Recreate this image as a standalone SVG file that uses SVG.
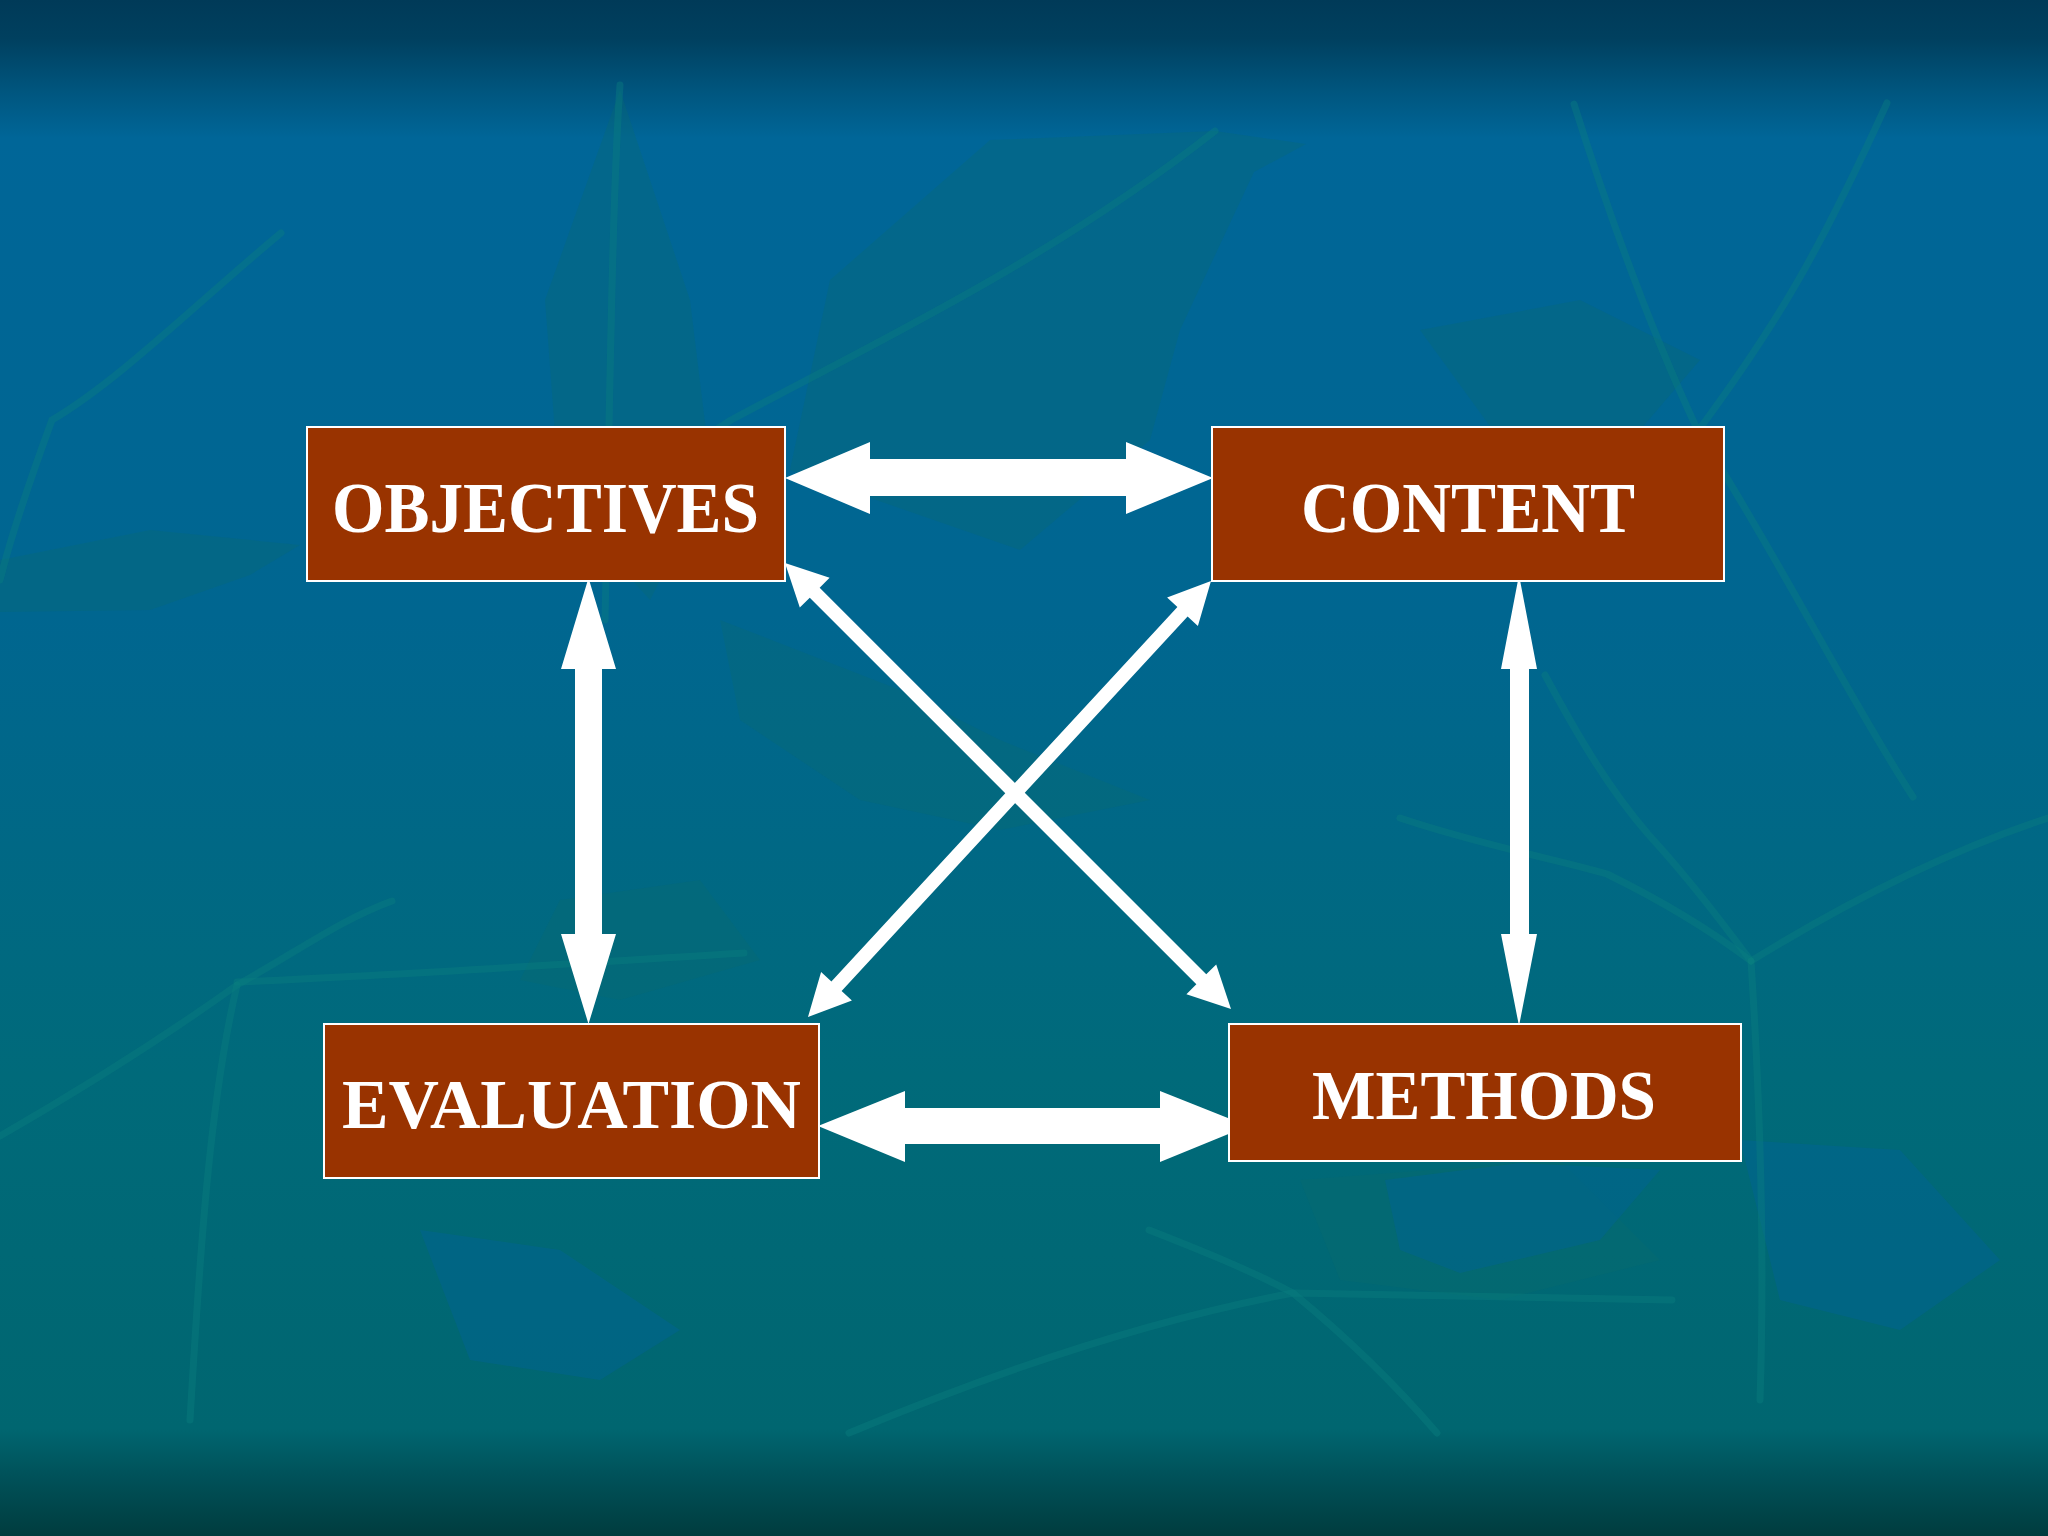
<svg xmlns="http://www.w3.org/2000/svg" width="2048" height="1536" viewBox="0 0 2048 1536">
  <defs>
    <linearGradient id="bg" x1="0" y1="0" x2="0" y2="1">
      <stop offset="0" stop-color="#003a58"/>
      <stop offset="0.025" stop-color="#00405f"/>
      <stop offset="0.06" stop-color="#00567f"/>
      <stop offset="0.09" stop-color="#006698"/>
      <stop offset="0.4" stop-color="#006690"/>
      <stop offset="0.7" stop-color="#006a7a"/>
      <stop offset="0.93" stop-color="#006670"/>
      <stop offset="0.96" stop-color="#00525a"/>
      <stop offset="1" stop-color="#003c3e"/>
    </linearGradient>
    <style>
      .leaf { fill: #0a6a6a; opacity: 0.28; }
      .blue { fill: #0062a0; opacity: 0.35; }
      .stem { fill: none; stroke: #0a8080; stroke-width: 7; stroke-linecap: round; opacity: 0.4; }
      .box { fill: #993300; stroke: #ffffff; stroke-width: 2; }
      .label { font-family: "Liberation Serif", "Times New Roman", serif; font-weight: bold; fill: #ffffff; }
      .arrow { fill: #ffffff; }
    </style>
  </defs>

  <g id="background">
    <rect x="0" y="0" width="2048" height="1536" fill="url(#bg)"/>
    <path class="leaf" d="M1215,131 L1306,144 L1254,172 L1180,330 L1150,440 L1020,550 L790,470 L830,280 L990,140 Z"/>
    <path class="leaf" d="M620,90 L690,300 L712,480 L650,600 L560,500 L545,300 Z"/>
    <path class="leaf" d="M0,560 L150,530 L300,545 L250,575 L150,610 L0,612 Z"/>
    <path class="leaf" d="M1420,330 L1580,300 L1700,360 L1640,430 L1500,440 Z"/>
    <path class="leaf" d="M720,620 L900,690 L1000,740 L1150,800 L1000,830 L860,800 L740,720 Z"/>
    <path class="leaf" d="M560,900 L700,880 L760,960 L620,1000 L520,980 Z"/>
    <path class="leaf" d="M1300,1180 L1560,1160 L1660,1260 L1500,1300 L1340,1280 Z"/>
    <path class="blue" d="M1385,1180 L1520,1163 L1660,1170 L1600,1240 L1460,1273 L1400,1250 Z"/>
    <path class="blue" d="M1740,1140 L1900,1150 L2000,1260 L1900,1330 L1780,1300 Z"/>
    <path class="blue" d="M420,1230 L560,1250 L680,1330 L600,1380 L470,1360 Z"/>
    <path class="stem" d="M620,85 C612,200 610,400 605,620"/>
    <path class="stem" d="M1215,131 C1050,260 880,340 731,420 C650,470 600,520 560,560"/>
    <path class="stem" d="M1574,104 C1620,250 1660,350 1698,431 C1780,560 1850,700 1913,797"/>
    <path class="stem" d="M1887,103 C1820,250 1780,320 1698,431"/>
    <path class="stem" d="M281,233 C200,300 120,380 52,420 C30,480 10,540 0,580"/>
    <path class="stem" d="M0,1136 C80,1090 160,1040 237,985 C300,950 340,920 392,901"/>
    <path class="stem" d="M237,982 C400,975 550,965 744,953"/>
    <path class="stem" d="M237,985 C210,1100 200,1250 190,1420"/>
    <path class="stem" d="M1545,675 C1580,740 1610,790 1648,834 C1690,880 1720,920 1751,961"/>
    <path class="stem" d="M1400,818 C1480,845 1560,860 1607,874 C1660,900 1710,930 1751,961"/>
    <path class="stem" d="M1751,961 C1850,900 1950,850 2048,818"/>
    <path class="stem" d="M1751,961 C1760,1100 1765,1250 1760,1400"/>
    <path class="stem" d="M849,1433 C1000,1370 1150,1320 1293,1293 C1450,1295 1560,1298 1672,1300"/>
    <path class="stem" d="M1149,1230 C1200,1250 1250,1270 1293,1293 C1350,1340 1400,1390 1437,1433"/>
  </g>

  <g id="connectors">
    <polygon class="arrow" points="785,478 870,442 870,459 1126,459 1126,442 1213,478 1126,514 1126,496 870,496 870,514"/>
    <polygon class="arrow" points="818,1126 905,1091 905,1108 1160,1108 1160,1091 1248,1126 1160,1162 1160,1144 905,1144 905,1162"/>
    <polygon class="arrow" points="588.5,578 616,669 602,669 602,934 616,934 588.5,1024 561,934 575,934 575,669 561,669"/>
    <polygon class="arrow" points="1519,575 1537,669 1529,669 1529,934 1537,934 1519,1026 1501,934 1510,934 1510,669 1501,669"/>
    <polygon class="arrow" points="785,563 829.6,577.8 819.65,587.75 1206.25,974.35 1216.2,964.5 1231,1009 1186.4,994.2 1196.35,984.25 809.75,597.65 799.8,607.6"/>
    <polygon class="arrow" points="1211,581 1197.9,626.1 1187.6,616.6 841.6,991 851.9,1000.5 808,1017 821.1,971.9 831.4,981.5 1177.4,607 1167.1,597.5"/>
  </g>

  <g id="node-objectives">
    <rect class="box" x="307" y="427" width="478" height="154"/>
    <text class="label" x="332" y="532" font-size="71" textLength="427" lengthAdjust="spacingAndGlyphs">OBJECTIVES</text>
  </g>
  <g id="node-content">
    <rect class="box" x="1212" y="427" width="512" height="154"/>
    <text class="label" x="1301" y="532" font-size="71" textLength="334" lengthAdjust="spacingAndGlyphs">CONTENT</text>
  </g>
  <g id="node-evaluation">
    <rect class="box" x="324" y="1024" width="495" height="154"/>
    <text class="label" x="342" y="1128" font-size="69" textLength="459" lengthAdjust="spacingAndGlyphs">EVALUATION</text>
  </g>
  <g id="node-methods">
    <rect class="box" x="1229" y="1024" width="512" height="137"/>
    <text class="label" x="1312" y="1119" font-size="69" textLength="344" lengthAdjust="spacingAndGlyphs">METHODS</text>
  </g>
</svg>
